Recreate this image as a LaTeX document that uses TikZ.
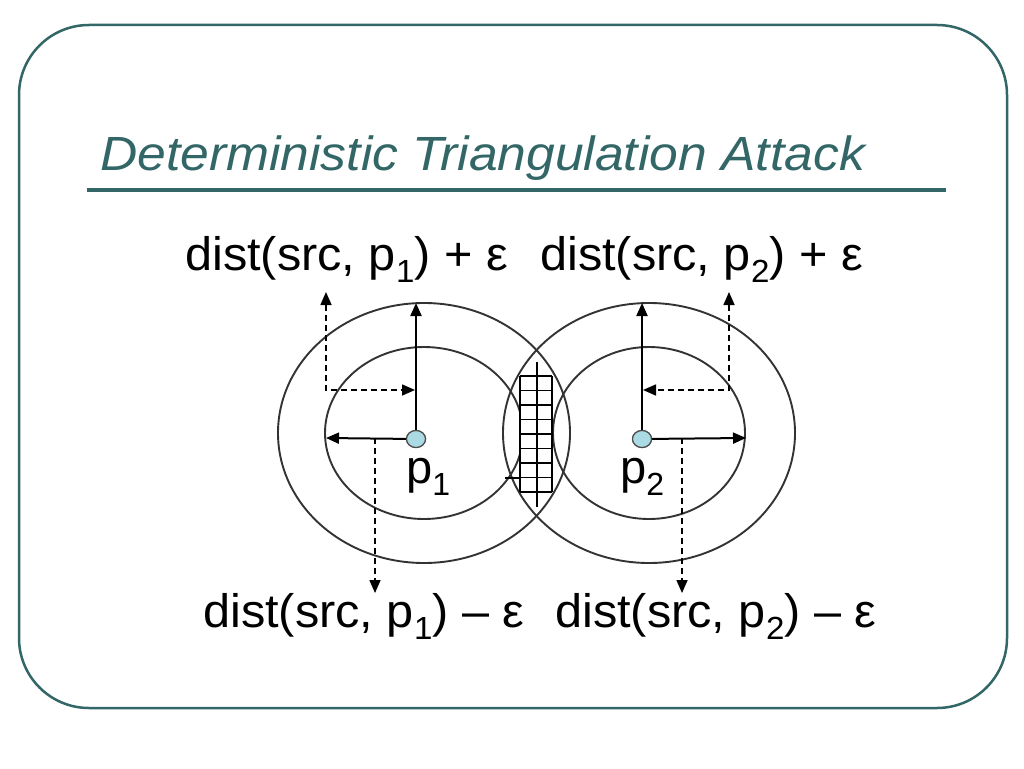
\documentclass[tikz,border=0pt]{standalone}
\usepackage{fontspec}
\setmainfont{Liberation Sans}
\usetikzlibrary{arrows.meta,shapes.geometric}
\definecolor{teal}{RGB}{51,102,102}
\definecolor{dotblue}{RGB}{170,218,228}
\newcommand{\sbs}[1]{\raisebox{-12pt}{\fontsize{32}{32}\selectfont #1}}
\newcommand{\wide}[1]{\scalebox{1.035}[1]{#1}}
\begin{document}
\begin{tikzpicture}[x=1pt,y=-1pt,
  frame/.style={draw=teal,line width=2.5pt,rounded corners=70pt},
  ring/.style={draw=black!80,line width=1.9pt},
  solidarrow/.style={draw=black,line width=2pt,-{Triangle[length=13pt,width=11pt]}},
  dasharrow/.style={draw=black,line width=1.6pt,dash pattern=on 6pt off 4pt,{Triangle[length=13pt,width=11pt]}-{Triangle[length=13pt,width=11pt]}},
  dasharrowone/.style={draw=black,line width=1.6pt,dash pattern=on 6pt off 4pt,-{Triangle[length=13pt,width=11pt]}},
  lbl/.style={inner sep=0pt,anchor=base west,font=\fontsize{47}{50}\selectfont},
  dot/.style={ellipse,draw=black!70,fill=dotblue,line width=1.2pt,minimum width=19pt,minimum height=17pt,inner sep=0pt},
  hatch/.style={draw=black,line width=1.6pt}]
\useasboundingbox (0,0) rectangle (1024,768);
% frame
\draw[frame] (19,25) rectangle (1007,708);
% title
\node[inner sep=0pt,anchor=base west,text=teal,font=\fontsize{48}{52}\selectfont\itshape] (title) at (100,170) {\scalebox{1.075}[1]{Deterministic Triangulation Attack}};
\draw[teal,line width=3.5pt] (87,190) -- (946,190);
% rings
\draw[ring] (424,433) ellipse [x radius=146pt,y radius=130pt];
\draw[ring] (424,433) ellipse [x radius=99pt,y radius=86pt];
\draw[ring] (649,433) ellipse [x radius=146pt,y radius=130pt];
\draw[ring] (649,433) ellipse [x radius=96pt,y radius=86pt];
% hatched region
\fill[white] (520,376) rectangle (552,492);
\foreach \k in {0,...,8} {\draw[hatch] (520,376+\k*14.5) -- (552,376+\k*14.5);}
\draw[hatch] (520,376) -- (520,492);
\draw[hatch] (552,376) -- (552,492);
\draw[hatch] (537,362) -- (537,507);
\draw[hatch] (505,478) -- (520,478);
% dots
\node[dot] (p1) at (416,439) {};
\node[dot] (p2) at (642,439) {};
% free ends
\coordinate (p1up) at (416,303);
\coordinate (p1left) at (326,438);
\coordinate (p2up) at (642,303);
\coordinate (p2right) at (746,438);
\coordinate (c1) at (326,390);
\coordinate (c1up) at (326,292);
\coordinate (c1right) at (415,390);
\coordinate (d1) at (375,438);
\coordinate (d1down) at (375,593);
\coordinate (c2) at (729,390);
\coordinate (c2up) at (729,292);
\coordinate (c2left) at (643,390);
\coordinate (d2) at (682,438);
\coordinate (d2down) at (682,593);
% solid arrows
\draw[solidarrow] (p1.center) -- (p1up);
\draw[solidarrow] (p1.center) -- (p1left);
\draw[solidarrow] (p2.center) -- (p2up);
\draw[solidarrow] (p2.center) -- (p2right);
\node[dot] at (p1) {};
\node[dot] at (p2) {};
% dashed arrows
\draw[dasharrow] (c1up) -- (c1) -- (c1right);
\draw[dasharrow] (c2up) -- (c2) -- (c2left);
\draw[dasharrowone] (d1) -- (d1down);
\draw[dasharrowone] (d2) -- (d2down);
% labels
\node[lbl] (lp1) at (406,483) {p\sbs{1}};
\node[lbl] (lp2) at (620,483) {p\sbs{2}};
\node[lbl] (t1) at (185,270) {\wide{dist(src, p\sbs{1}) + ε}};
\node[lbl] (t2) at (540,270) {\wide{dist(src, p\sbs{2}) + ε}};
\node[lbl] (b1) at (203,627) {\wide{dist(src, p\sbs{1}) – ε}};
\node[lbl] (b2) at (555,627) {\wide{dist(src, p\sbs{2}) – ε}};
\end{tikzpicture}
\end{document}
